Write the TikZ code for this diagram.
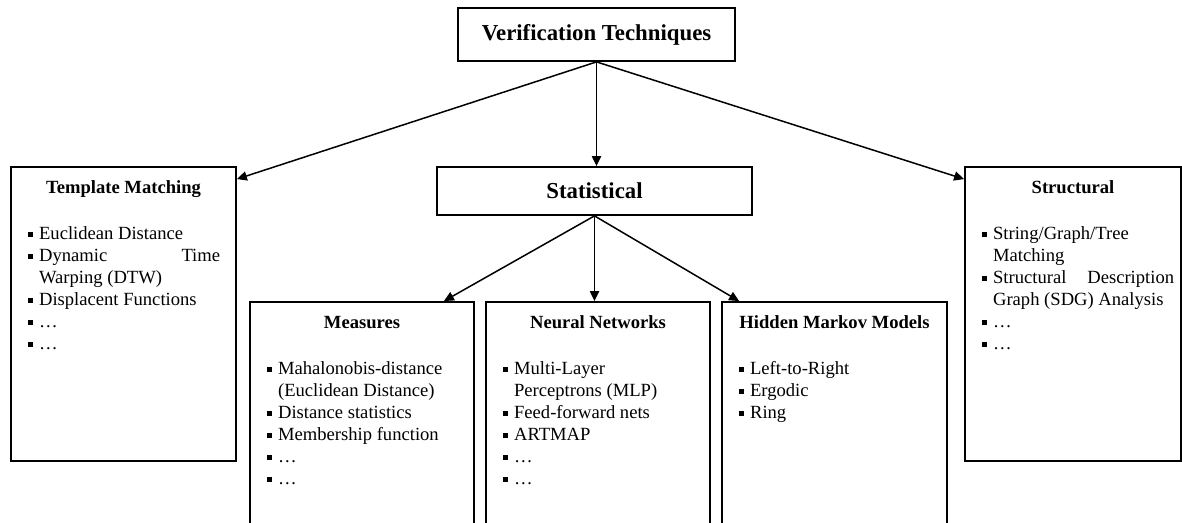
\documentclass[tikz,border=0pt]{standalone}
\usepackage{fontspec}
\setmainfont{Liberation Serif}
\usepackage{tikz}
\usetikzlibrary{arrows.meta}

\newcommand{\sqmark}{\rule[1.4pt]{2.5pt}{2.5pt}}
\newcommand{\sqitem}[1]{\par\noindent\hyphenpenalty=10000\exhyphenpenalty=10000
    \hangindent=5.5pt\hangafter=1\makebox[5.5pt][l]{\sqmark}#1}

\begin{document}
\begin{tikzpicture} [
    x=0.5pt, y=-0.5pt,
    every node/.style = {inner sep=0pt},
    headbox/.style = {draw, line width=0.9pt, font=\bfseries\fontsize{11.4}{13}\selectfont},
    panel/.style = {draw, line width=0.9pt, minimum width=112.5pt, minimum height=147pt},
    paneltitle/.style = {anchor=base, font=\bfseries\fontsize{9.3}{11}\selectfont},
    panellist/.style = {anchor=north west, text width=96pt, align=justify, font=\fontsize{9.3}{11}\selectfont},
    link/.style = {-{Triangle[length=5pt,width=4.6pt]}, line width=0.75pt}
]
    \path[use as bounding box, clip] (0,0) rectangle (1182,523);

    % top of the tree
    \node[headbox, minimum width=138.5pt, minimum height=26.5pt] (vt) at (596.5,34.5) {Verification Techniques};
    \node[headbox, minimum width=157.5pt, minimum height=24pt] (stat) at (594.5,191) {Statistical};

    % side panels
    \node[panel] (tm) at (123.5,314) {};
    \node[paneltitle] (tmtitle) at ([yshift=-13.5pt]tm.north) {Template Matching};
    \node[panellist] (tmlist) at ([xshift=8.8pt,yshift=-25.5pt]tm.north west) {
        \sqitem{Euclidean Distance}
        \sqitem{Dynamic Time\linebreak Warping (DTW)}
        \sqitem{Displacent Functions}
        \sqitem{…}
        \sqitem{…}};

    \node[panel, minimum width=108pt] (st) at (1073,314) {};
    \node[paneltitle] (sttitle) at ([yshift=-13.5pt]st.north) {Structural};
    \node[panellist] (stlist) at ([xshift=8.8pt,yshift=-25.5pt]st.north west) {
        \sqitem{String/Graph/Tree\newline Matching}
        \sqitem{Structural Description\linebreak Graph (SDG) Analysis}
        \sqitem{…}
        \sqitem{…}};

    % panels under Statistical
    \node[panel, minimum width=112pt, minimum height=140pt] (meas) at (362,442) {};
    \node[paneltitle] (meastitle) at ([yshift=-13.5pt]meas.north) {Measures};
    \node[panellist] (measlist) at ([xshift=8.8pt,yshift=-25.5pt]meas.north west) {
        \sqitem{Mahalonobis-distance\newline (Euclidean Distance)}
        \sqitem{Distance statistics}
        \sqitem{Membership function}
        \sqitem{…}
        \sqitem{…}};

    \node[panel, minimum width=112pt, minimum height=140pt] (nn) at (598,442) {};
    \node[paneltitle] (nntitle) at ([yshift=-13.5pt]nn.north) {Neural Networks};
    \node[panellist] (nnlist) at ([xshift=8.8pt,yshift=-25.5pt]nn.north west) {
        \sqitem{Multi-Layer\newline Perceptrons (MLP)}
        \sqitem{Feed-forward nets}
        \sqitem{ARTMAP}
        \sqitem{…}
        \sqitem{…}};

    \node[panel, minimum height=140pt] (hmm) at (834.5,442) {};
    \node[paneltitle] (hmmtitle) at ([yshift=-13.5pt]hmm.north) {Hidden Markov Models};
    \node[panellist] (hmmlist) at ([xshift=8.8pt,yshift=-25.5pt]hmm.north west) {
        \sqitem{Left-to-Right}
        \sqitem{Ergodic}
        \sqitem{Ring}};

    % arrows
    \draw[link] (vt.south) -- ([yshift=-6.5pt]tm.north east);
    \draw[link] (vt.south) -- (vt.south |- stat.north);
    \draw[link] (vt.south) -- ([yshift=-6.5pt]st.north west);
    \draw[link] (stat.south) -- ([xshift=-15.5pt]meas.north east);
    \draw[link] (stat.south) -- (stat.south |- nn.north);
    \draw[link] (stat.south) -- ([xshift=9pt]hmm.north west);
\end{tikzpicture}
\end{document}
